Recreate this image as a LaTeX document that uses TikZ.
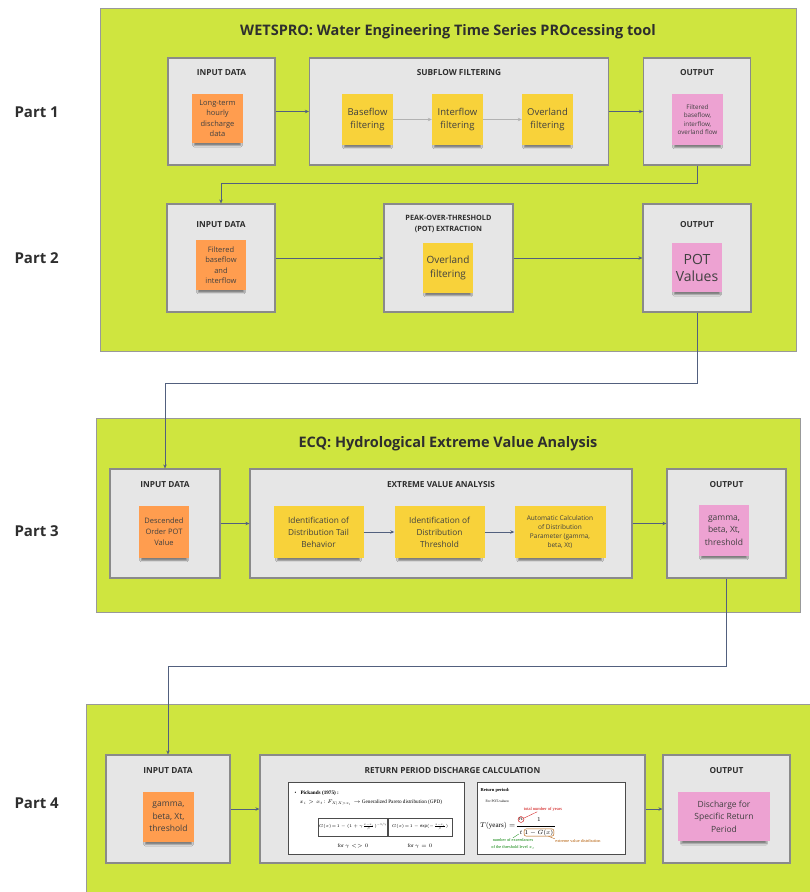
\RequirePackage{fix-cm}
\documentclass[tikz,border=0pt]{standalone}
\usepackage{amsmath}
\usepackage{fontspec}
\setmainfont{Open Sans}
\newfontfamily\tms{Liberation Serif}
\usetikzlibrary{positioning, arrows.meta, shadows.blur}

\definecolor{lime}{HTML}{CFE53F}
\definecolor{boxgray}{HTML}{E6E6E6}
\definecolor{boxline}{HTML}{8A8A8A}
\definecolor{sorange}{HTML}{FF9D4F}
\definecolor{syellow}{HTML}{F8D23A}
\definecolor{spink}{HTML}{EDA2D2}
\definecolor{flow}{HTML}{52607E}
\definecolor{hdrtxt}{HTML}{2E2E2E}

\begin{document}
\begin{tikzpicture}[x=1pt, y=-1pt, >={Stealth[length=4pt, width=3.5pt]},
  panel/.style={draw=black!40, fill=lime, line width=0.8pt},
  bx/.style={draw=boxline, fill=boxgray, line width=1.2pt},
  hdr/.style={font=\bfseries\fontsize{8.3}{11}\selectfont, text=hdrtxt, align=center, inner sep=0pt},
  ttl/.style={font=\bfseries\fontsize{14.5}{17}\selectfont, text=hdrtxt},
  part/.style={font=\bfseries\fontsize{15}{18}\selectfont, text=hdrtxt, anchor=west},
  note/.style={align=center, text=black!75, inner sep=1pt,
               blur shadow={shadow xshift=0pt, shadow yshift=-5pt, shadow scale=0.92, shadow blur radius=1.5pt, shadow opacity=45}},
  orn/.style={note, fill=sorange},
  ylw/.style={note, fill=syellow},
  pnk/.style={note, fill=spink},
  img/.style={draw=black!70, fill=white, line width=0.5pt},
  ftx/.style={font=\tms\fontsize{5.2}{6.5}\selectfont, inner sep=0.5pt, align=center},
  fbx/.style={ftx, draw=black!70, font=\tms\fontsize{4.2}{5}\selectfont, minimum width=64, minimum height=18},
  s/.style={->, draw=flow, line width=0.8pt},
  t/.style={->, draw=black!30, line width=0.6pt}]
\useasboundingbox (0,0) rectangle (809,892);
% panels
\node[panel, minimum width=696, minimum height=343] (p1) at (448,179.5) {};
\node[panel, minimum width=704, minimum height=194] (p2) at (448,515) {};
\node[panel, minimum width=729, minimum height=192] (p3) at (450.5,800) {};
\node[ttl] (wet) at (448,32) {WETSPRO: Water Engineering Time Series PROcessing tool};
\node[ttl] (ecq) at (448,444) {ECQ: Hydrological Extreme Value Analysis};
\node[part] (pt1) at (11,112) {Part 1};
\node[part] (pt2) at (11,258) {Part 2};
\node[part] (pt3) at (11,531) {Part 3};
\node[part] (pt4) at (11,803) {Part 4};
% part 1
\node[bx, minimum width=107, minimum height=107] (in1) at (221.5,111.5) {};
\node[bx, minimum width=299, minimum height=107] (sub) at (459,111.5) {};
\node[bx, minimum width=107, minimum height=107] (out1) at (697,111.5) {};
\node[hdr, below=12pt of in1.north] (hin1) {INPUT DATA};
\node[hdr, below=12pt of sub.north] (hsub) {SUBFLOW FILTERING};
\node[hdr, below=12pt of out1.north] (hout1) {OUTPUT};
\node[orn, minimum width=51, minimum height=49, font=\fontsize{7.5}{10.5}\selectfont] (n1) at (217.5,118.5) {Long-term\\hourly\\discharge\\data};
\node[ylw, minimum width=51, minimum height=51, font=\fontsize{9.5}{13.5}\selectfont] (bf) at (367.5,119.5) {Baseflow\\filtering};
\node[ylw, minimum width=51, minimum height=51, font=\fontsize{9.5}{13.5}\selectfont] (itf) at (457.5,119.5) {Interflow\\filtering};
\node[ylw, minimum width=51, minimum height=51, font=\fontsize{9.5}{13.5}\selectfont] (ovl) at (547.5,119.5) {Overland\\filtering};
\node[pnk, minimum width=51, minimum height=51, font=\fontsize{6.3}{8.3}\selectfont] (o1) at (697.5,119.5) {Filtered\\baseflow,\\interflow,\\overland flow};
% part 2
\node[bx, minimum width=108, minimum height=108] (in2) at (221,258) {};
\node[bx, minimum width=129, minimum height=108] (pot) at (448.5,258) {};
\node[bx, minimum width=108, minimum height=108] (out2) at (697,258) {};
\node[hdr, below=17.5pt of in2.north] (hin2) {INPUT DATA};
\node[hdr, below=12pt of pot.north, font=\bfseries\fontsize{7.3}{11}\selectfont] (hpot) {PEAK-OVER-THRESHOLD\\(POT) EXTRACTION};
\node[hdr, below=17.5pt of out2.north] (hout2) {OUTPUT};
\node[orn, minimum width=50, minimum height=50, font=\fontsize{7.5}{10.5}\selectfont] (n2) at (221,265) {Filtered\\baseflow\\and\\interflow};
\node[ylw, minimum width=50, minimum height=50, font=\fontsize{10}{13.5}\selectfont] (pov) at (448,268) {Overland\\filtering};
\node[pnk, minimum width=50, minimum height=49, font=\fontsize{14}{17}\selectfont] (o2) at (697,267.5) {POT\\Values};
% part 3
\node[bx, minimum width=110, minimum height=109] (in3) at (165,523.5) {};
\node[bx, minimum width=382, minimum height=109] (eva) at (441,523.5) {};
\node[bx, minimum width=119, minimum height=109] (out3) at (726.5,523.5) {};
\node[hdr, below=13pt of in3.north] (hin3) {INPUT DATA};
\node[hdr, below=13pt of eva.north] (heva) {EXTREME VALUE ANALYSIS};
\node[hdr, below=13pt of out3.north] (hout3) {OUTPUT};
\node[orn, minimum width=50, minimum height=52, font=\fontsize{7.5}{11}\selectfont] (n3) at (164,532) {Descended\\Order POT\\Value};
\node[ylw, minimum width=90, minimum height=52, font=\fontsize{8.3}{12}\selectfont] (ida) at (318.5,532) {Identification of\\Distribution Tail\\Behavior};
\node[ylw, minimum width=90, minimum height=52, font=\fontsize{8.3}{12}\selectfont] (idt) at (439.5,532) {Identification of\\Distribution\\Threshold};
\node[ylw, minimum width=91, minimum height=52, font=\fontsize{6.5}{9}\selectfont] (auc) at (560,532) {Automatic Calculation\\of Distribution\\Parameter (gamma,\\beta, Xt)};
\node[pnk, minimum width=50, minimum height=51, font=\fontsize{8.5}{12.5}\selectfont] (o3) at (724,530.5) {gamma,\\beta, Xt,\\threshold};
% part 4
\node[bx, minimum width=124, minimum height=108] (in4) at (168,809) {};
\node[bx, minimum width=385, minimum height=108] (rpd) at (452.5,809) {};
\node[bx, minimum width=127, minimum height=108] (out4) at (726.5,809) {};
\node[hdr, below=13pt of in4.north] (hin4) {INPUT DATA};
\node[hdr, below=13pt of rpd.north] (hrpd) {RETURN PERIOD DISCHARGE CALCULATION};
\node[hdr, below=13pt of out4.north] (hout4) {OUTPUT};
\node[orn, minimum width=51, minimum height=50, font=\fontsize{8.5}{12.5}\selectfont] (n4) at (168.5,817) {gamma,\\beta, Xt,\\threshold};
\node[pnk, minimum width=92, minimum height=49, font=\fontsize{8.5}{12.5}\selectfont] (o4) at (724,816.5) {Discharge for\\Specific Return\\Period};
% formula snapshots
\node[img, minimum width=176, minimum height=72] (gpd) at (376,818) {};
\node[ftx, anchor=west] (g1) at (294,793) {\textbullet\hspace{4pt}\textbf{Pickands (1975) :}};
\node[ftx, anchor=west] (g2) at (299,803) {$x_i > x_t$ : $F_{X|X>x_t}\rightarrow$ Generalized Pareto distribution (GPD)};
\node[fbx] (g3) at (353,827) {$G(x)\!=\!1-(1+\gamma\frac{x-x_t}{\beta})^{-1/\gamma}$};
\node[fbx] (g4) at (420,827) {$G(x)\!=\!1-\exp(-\frac{x-x_t}{\beta})$};
\node[ftx] (g5) at (353,846) {for $\gamma<>0$};
\node[ftx] (g6) at (420,846) {for $\gamma=0$};
\node[img, minimum width=148, minimum height=72] (rtp) at (551,818) {};
\node[ftx, anchor=west, font=\tms\fontsize{4.5}{5.5}\selectfont] (r1) at (480,790) {\textbf{Return period:}};
\node[ftx, anchor=west, font=\tms\fontsize{3.6}{4.5}\selectfont] (r2) at (485,801) {For POT-values:};
\node[ftx, text=red!80!black, font=\tms\fontsize{4.5}{5.5}\selectfont] (r3) at (543,809) {total number of years};
\node[ftx, anchor=east, font=\tms\fontsize{7}{8}\selectfont] (tyr) at (516,826) {$T(\text{years})=$};
\node[ftx, draw=red!80!black, circle, inner sep=0.2pt, font=\tms\fontsize{6}{7}\selectfont] (fn) at (521,819.5) {$n$};
\node[ftx, font=\tms\fontsize{6}{7}\selectfont] (ft) at (521,832.5) {$t$};
\node[ftx, font=\tms\fontsize{6}{7}\selectfont] (f1) at (539,819.5) {$1$};
\node[ftx, draw=orange!70!black, rounded corners=2pt, inner sep=0.6pt, font=\tms\fontsize{6}{7}\selectfont] (fg) at (539,832.5) {$1-G(x)$};
\node[ftx, text=green!50!black, font=\tms\fontsize{4.3}{7}\selectfont] (r5) at (513,844) {number of exceedances\\of the threshold level $x_t$};
\node[ftx, text=orange!70!black, font=\tms\fontsize{4.3}{5.5}\selectfont] (r6) at (578,841) {extreme value distribution};
\draw[line width=0.4pt] ([xshift=-2pt]ft.west |- tyr) -- ([xshift=2pt]ft.east |- tyr);
\draw[line width=0.4pt] ([xshift=-0.5pt]fg.west |- tyr) -- ([xshift=0.5pt]fg.east |- tyr);
\draw[red!80!black, line width=0.3pt] (r3) -- (fn);
\draw[green!50!black, line width=0.3pt] (r5.north) -- (ft);
\draw[orange!70!black, line width=0.3pt] (r6.north west) -- (fg);
% flow
\draw[s] (in1) -- (sub); \draw[s] (sub) -- (out1);
\draw[t] (bf) -- (itf); \draw[t] (itf) -- (ovl);
\draw[s] (out1.south) -- ++(0,18) -| (in2.north);
\draw[s] (in2) -- (pot); \draw[s] (pot) -- (out2);
\draw[s] (out2.south) -- ++(0,71) -| (in3.north);
\draw[s] (in3) -- (eva); \draw[s] (eva) -- (out3);
\draw[s] (ida) -- (idt); \draw[s] (idt) -- (auc);
\draw[s] (out3.south) -- ++(0,88) -| (in4.north);
\draw[s] (in4) -- (rpd); \draw[s] (rpd) -- (out4);
\end{tikzpicture}
\end{document}
